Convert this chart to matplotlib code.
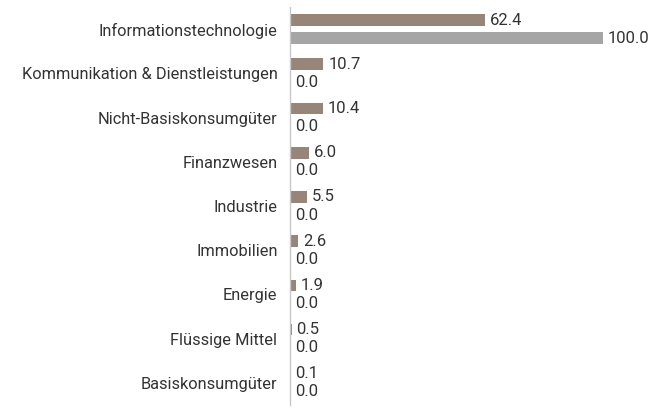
import matplotlib
matplotlib.use('Agg')
import matplotlib.pyplot as plt
import numpy as np

plt.rcParams['font.family'] = ['Roboto', 'DejaVu Sans']

categories = ['Informationstechnologie', 'Kommunikation & Dienstleistungen', 'Nicht-Basiskonsumgüter',
              'Finanzwesen', 'Industrie', 'Immobilien', 'Energie', 'Flüssige Mittel', 'Basiskonsumgüter']
fund = [62.4, 10.7, 10.4, 6.0, 5.5, 2.6, 1.9, 0.5, 0.1]
bench = [100.0, 0.0, 0.0, 0.0, 0.0, 0.0, 0.0, 0.0, 0.0]

fig = plt.figure(figsize=(6.66, 4.12), dpi=100)
ax = fig.add_axes([290 / 666, 7 / 412, 313 / 666, 398 / 412])

y = np.arange(len(categories))
h = 0.265
off = 0.205
ax.barh(y - off, fund, height=h, color='#978579')
ax.barh(y + off, bench, height=h, color='#a5a5a5')

for yi, v in zip(y, fund):
    ax.annotate(f'{v:.1f}', (v, yi - off), xytext=(3.5, 0), textcoords='offset points',
                va='center', ha='left', fontsize=12, color='#333333', annotation_clip=False)
for yi, v in zip(y, bench):
    ax.annotate(f'{v:.1f}', (v, yi + off), xytext=(3.5, 0), textcoords='offset points',
                va='center', ha='left', fontsize=12, color='#333333', annotation_clip=False)

ax.set_xlim(0, 100)
ax.set_ylim(len(categories) - 0.5, -0.5)
ax.set_yticks(y)
ax.set_yticklabels(categories, fontsize=11.8, color='#333333')
ax.tick_params(axis='y', length=0, pad=9)
ax.set_xticks([])
for s in ['top', 'right', 'bottom']:
    ax.spines[s].set_visible(False)
ax.spines['left'].set_color('#c8c8c8')
ax.spines['left'].set_linewidth(1)

fig.savefig('out.png', dpi=100)
